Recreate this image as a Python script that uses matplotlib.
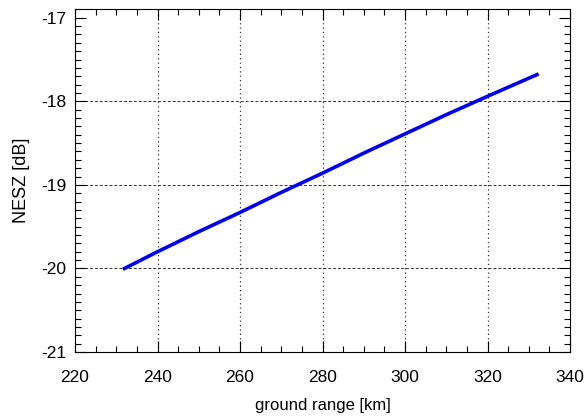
import matplotlib
matplotlib.use('Agg')
import matplotlib.pyplot as plt
from matplotlib.ticker import MultipleLocator

plt.rcParams['font.family'] = ['Liberation Sans', 'DejaVu Sans']
plt.rcParams['axes.unicode_minus'] = False

# curve
ground_range = [232, 240, 250, 260, 270, 280, 290, 300, 310, 320, 332]
nesz = [-20.0, -19.8, -19.56, -19.33, -19.09, -18.86, -18.62, -18.39, -18.16, -17.94, -17.68]

x_ticks = [220, 240, 260, 280, 300, 320, 340]
y_ticks = [-21, -20, -19, -18, -17]

fig = plt.figure(figsize=(5.85, 4.16), dpi=100)
ax = fig.add_axes([75 / 585, 1 - 352 / 416, (570 - 75) / 585, (352 - 9) / 416])

ax.plot(ground_range, nesz, color='#0000ee', linewidth=2.6, zorder=3)

ax.set_xlim(220, 340)
ax.set_ylim(-21, -16.895)
ax.set_xticks(x_ticks)
ax.set_yticks(y_ticks)
ax.xaxis.set_minor_locator(MultipleLocator(5))
ax.yaxis.set_minor_locator(MultipleLocator(0.1))

ax.tick_params(which='both', direction='in', top=True, right=True, labelsize=12.5)
ax.tick_params(axis='x', which='major', pad=13)
ax.tick_params(axis='y', which='major', pad=6)
ax.tick_params(which='major', length=8, width=0.8)
ax.tick_params(which='minor', length=4, width=0.8)

# grid: dotted verticals, dashed horizontals
for xv in x_ticks[1:-1]:
    ax.axvline(xv, color='#333333', linestyle=(0, (1, 2.5)), linewidth=0.9, zorder=1)
for yv in [-20, -19, -18]:
    ax.axhline(yv, color='#333333', linestyle=(0, (3, 2)), linewidth=0.7, zorder=1)

for sp in ax.spines.values():
    sp.set_linewidth(0.8)

ax.set_xlabel('ground range [km]', fontsize=12, labelpad=9)
ax.set_ylabel('NESZ [dB]', fontsize=13, labelpad=8)

fig.savefig('out.png', dpi=100)
